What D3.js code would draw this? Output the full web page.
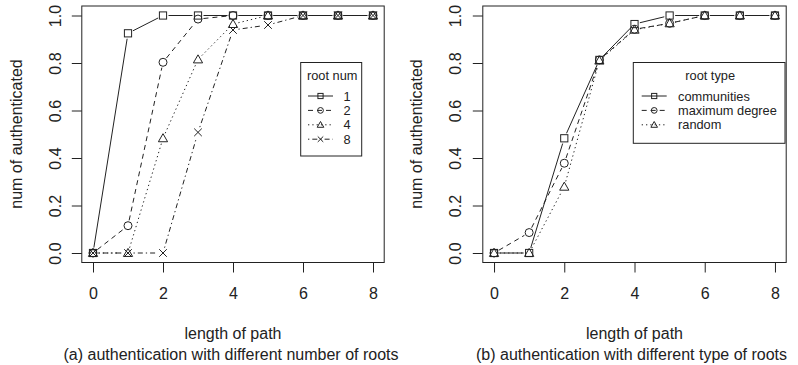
<!DOCTYPE html>
<html>
<head>
<meta charset="utf-8">
<script src="https://cdn.jsdelivr.net/npm/d3@7"></script>
<style>
  body { margin: 0; background: #fff; }
  svg text { font-family: "Liberation Sans", Arial, sans-serif; fill: #222; }
</style>
</head>
<body>
<div id="chart"></div>
<script>
// data
var pathLen = [0, 1, 2, 3, 4, 5, 6, 7, 8];
var yTicks = [0, 0.2, 0.4, 0.6, 0.8, 1.0];
var xTicks = [0, 2, 4, 6, 8];

var rootNumNames = ["1", "2", "4", "8"];
var root1 = [0, 0.925, 1.0, 1.0, 1.0, 1.0, 1.0, 1.0, 1.0];
var root2 = [0, 0.115, 0.803, 0.985, 1.0, 1.0, 1.0, 1.0, 1.0];
var root4 = [0, 0, 0.483, 0.815, 0.964, 1.0, 1.0, 1.0, 1.0];
var root8 = [0, 0, 0, 0.508, 0.939, 0.96, 1.0, 1.0, 1.0];

var rootTypeNames = ["communities", "maximum degree", "random"];
var communities = [0, 0, 0.483, 0.813, 0.964, 1.0, 1.0, 1.0, 1.0];
var maxDegree = [0, 0.086, 0.378, 0.813, 0.942, 0.967, 1.0, 1.0, 1.0];
var randomRoot = [0, 0, 0.279, 0.81, 0.94, 0.967, 1.0, 1.0, 1.0];

(function() {
  var width = 798, height = 365;
  var ink = "#222";
  var dashes = [null, "5,4", "1.3,3", "1.3,3,5,3"];
  var shapes = ["square", "circle", "triangle", "cross"];

  var svg = d3.select("#chart").append("svg")
    .attr("width", width).attr("height", height);

  function marker(g, shape, cx, cy, s) {
    if (shape === "square") {
      g.append("rect").attr("x", cx - 3.6 * s).attr("y", cy - 3.6 * s)
        .attr("width", 7.2 * s).attr("height", 7.2 * s)
        .attr("fill", "none").attr("stroke", ink);
    } else if (shape === "circle") {
      g.append("circle").attr("cx", cx).attr("cy", cy).attr("r", 4 * s)
        .attr("fill", "none").attr("stroke", ink);
    } else if (shape === "triangle") {
      var h = 4.6 * s;
      g.append("path")
        .attr("d", "M" + cx + "," + (cy - h) + "L" + (cx + h) + "," + (cy + h * 0.75) +
          "L" + (cx - h) + "," + (cy + h * 0.75) + "Z")
        .attr("fill", "none").attr("stroke", ink);
    } else {
      var r = 3.8 * s;
      g.append("path")
        .attr("d", "M" + (cx - r) + "," + (cy - r) + "L" + (cx + r) + "," + (cy + r) +
          "M" + (cx - r) + "," + (cy + r) + "L" + (cx + r) + "," + (cy - r))
        .attr("fill", "none").attr("stroke", ink);
    }
  }

  function panel(p) {
    var x = d3.scaleLinear().domain([-0.32, 8.32]).range([p.left, p.right]);
    var y = d3.scaleLinear().domain([-0.04, 1.04]).range([262.5, 6]);
    var g = svg.append("g");

    // box
    g.append("rect").attr("x", p.left).attr("y", 6)
      .attr("width", p.right - p.left).attr("height", 256.5)
      .attr("fill", "none").attr("stroke", ink);

    // axes
    var gx = g.append("g").attr("transform", "translate(0,272.5)")
      .call(d3.axisBottom(x).tickValues(xTicks).tickSize(-10).tickPadding(10)
        .tickFormat(d3.format("d")));
    gx.select(".domain").remove();
    gx.selectAll("text").attr("y", 26).attr("font-size", 16).attr("fill", ink)
      .attr("dy", 0).style("font-family", "Liberation Sans, Arial, sans-serif");
    gx.selectAll("line").attr("stroke", ink).attr("y1", -10).attr("y2", 0);

    var gy = g.append("g").attr("transform", "translate(" + (p.left - 10) + ",0)")
      .call(d3.axisLeft(y).tickValues(yTicks).tickSize(-10).tickFormat(d3.format(".1f")));
    gy.select(".domain").remove();
    gy.selectAll("line").attr("stroke", ink).attr("x1", 0).attr("x2", 10);
    gy.selectAll("text").attr("x", 0).attr("dy", 0)
      .attr("transform", "translate(" + (p.tickX - (p.left - 10)) + ",0) rotate(-90)")
      .attr("text-anchor", "middle").attr("font-size", 16).attr("fill", ink)
      .style("font-family", "Liberation Sans, Arial, sans-serif");

    g.append("text").attr("transform", "translate(" + p.ylabX + ",134) rotate(-90)")
      .attr("text-anchor", "middle").attr("font-size", 16).text("num of authenticated");
    g.append("text").attr("x", (p.left + p.right) / 2).attr("y", 339)
      .attr("text-anchor", "middle").attr("font-size", 16).text("length of path");
    g.append("text").attr("x", (p.left + p.right) / 2 + p.capShift).attr("y", 360)
      .attr("text-anchor", "middle").attr("font-size", 16).text(p.caption);

    // series, R type "b": segments with gaps around the points
    var gap = 5.5;
    p.series.forEach(function(vals, i) {
      var sg = g.append("g");
      for (var k = 0; k < pathLen.length - 1; k++) {
        var x1 = x(pathLen[k]), y1 = y(vals[k]), x2 = x(pathLen[k + 1]), y2 = y(vals[k + 1]);
        var len = Math.hypot(x2 - x1, y2 - y1);
        if (len <= 2 * gap) continue;
        var ux = (x2 - x1) / len, uy = (y2 - y1) / len;
        sg.append("line")
          .attr("x1", x1 + ux * gap).attr("y1", y1 + uy * gap)
          .attr("x2", x2 - ux * gap).attr("y2", y2 - uy * gap)
          .attr("stroke", ink).attr("stroke-width", 1)
          .attr("stroke-dasharray", dashes[i]);
      }
      pathLen.forEach(function(d, k) { marker(sg, shapes[i], x(d), y(vals[k]), 1); });
    });

    // legend
    var L = p.legend;
    var lg = g.append("g");
    lg.append("rect").attr("x", L.x0).attr("y", 62.5)
      .attr("width", L.x1 - L.x0).attr("height", L.y1 - 62.5)
      .attr("fill", "#fff").attr("stroke", ink);
    lg.append("text").attr("x", (L.x0 + L.x1) / 2 + 1).attr("y", 79.5)
      .attr("text-anchor", "middle").attr("font-size", 12.8).text(L.title);
    L.names.forEach(function(name, i) {
      var yy = 96 + i * 14.4;
      lg.append("line").attr("x1", L.lx).attr("x2", L.lx + 25).attr("y1", yy).attr("y2", yy)
        .attr("stroke", ink).attr("stroke-dasharray", dashes[i]);
      marker(lg, shapes[i], L.lx + 12.5, yy, 0.72);
      lg.append("text").attr("x", L.tx).attr("y", yy + 4.6)
        .attr("font-size", 12.8).text(name);
    });
  }

  panel({
    left: 81.8, right: 384.2, tickX: 61, ylabX: 22, capShift: -2,
    caption: "(a) authentication with different number of roots",
    series: [root1, root2, root4, root8],
    legend: {x0: 300.7, x1: 361.7, y1: 156, lx: 308, tx: 343.5, title: "root num", names: rootNumNames}
  });
  panel({
    left: 482.8, right: 786.2, tickX: 461, ylabX: 422, capShift: -3,
    caption: "(b) authentication with different type of roots",
    series: [communities, maxDegree, randomRoot],
    legend: {x0: 633.3, x1: 785, y1: 143.3, lx: 641.7, tx: 678, title: "root type", names: rootTypeNames}
  });
})();
</script>
</body>
</html>
